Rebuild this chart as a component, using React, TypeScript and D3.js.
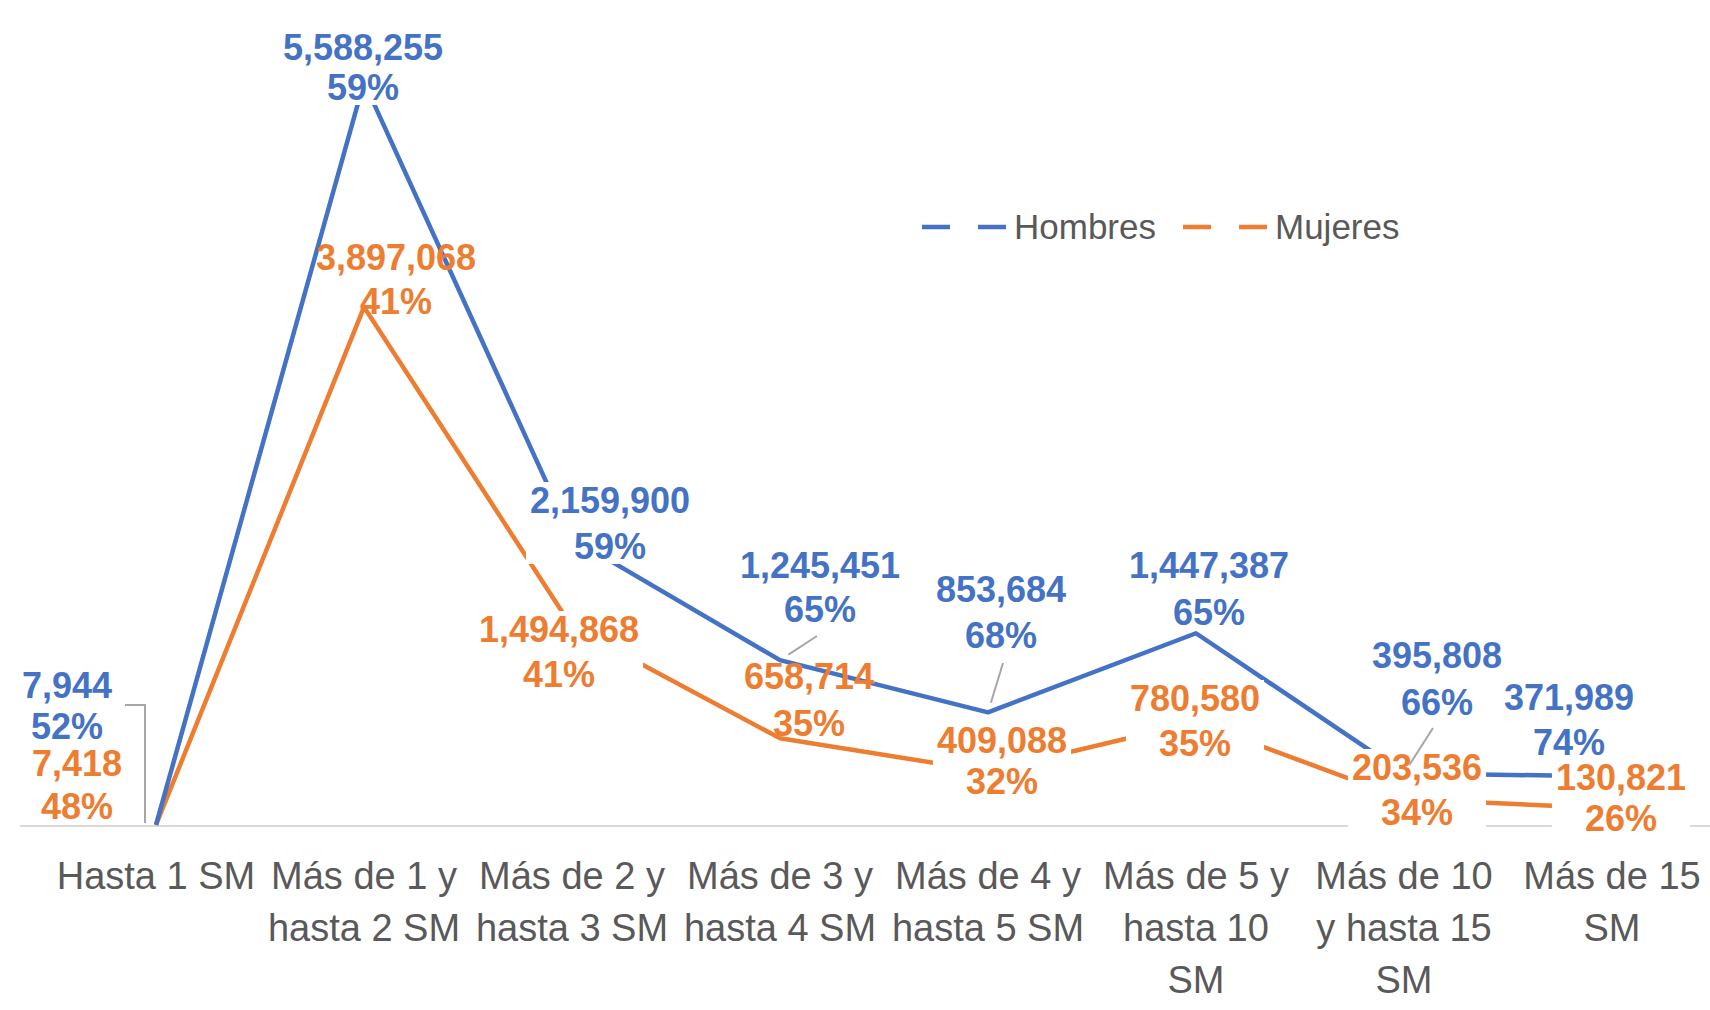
import { useEffect, useRef } from 'react';
import * as d3 from 'd3';

// tick labels, one entry per category (wrapped as in the original)
const categories = [
  ['Hasta 1 SM'],
  ['Más de 1 y', 'hasta 2 SM'],
  ['Más de 2 y', 'hasta 3 SM'],
  ['Más de 3 y', 'hasta 4 SM'],
  ['Más de 4 y', 'hasta 5 SM'],
  ['Más de 5 y', 'hasta 10', 'SM'],
  ['Más de 10', 'y hasta 15', 'SM'],
  ['Más de 15', 'SM'],
];

const hombres = [7944, 5588255, 2159900, 1245451, 853684, 1447387, 395808, 371989];
const mujeres = [7418, 3897068, 1494868, 658714, 409088, 780580, 203536, 130821];
const hombresPct = ['52%', '59%', '59%', '65%', '68%', '65%', '66%', '74%'];
const mujeresPct = ['48%', '41%', '41%', '35%', '32%', '35%', '34%', '26%'];

const BLUE = '#4472C4';
const ORANGE = '#ED7D31';
const GRAY = '#595959';
const FONT = '"Liberation Sans", Arial, sans-serif';

// label placement (centre x, value line y, percent line y) - layout only
const hombresLabelPos = [
  [67, 685, 726], [363, 47, 87], [610, 500, 546], [820, 565, 609],
  [1001, 589, 635], [1209, 565, 612], [1437, 655, 702], [1569, 697, 742],
];
const mujeresLabelPos = [
  [77, 763, 806], [396, 257, 301], [559, 629, 674], [809, 676, 723],
  [1002, 740, 781], [1195, 698, 743], [1417, 767, 812], [1621, 777, 818],
];
// Mujeres labels that the blue line shows through (no white box)
const mujeresOpen = [1, 3];
// leader line start points for a few Hombres labels
const hombresLeaders: Record<number, [number, number]> = {
  3: [817, 636],
  4: [1003, 663],
  6: [1433, 728],
};

export default function App() {
  const svgRef = useRef<SVGSVGElement>(null);

  useEffect(() => {
    if (!svgRef.current) return;
    const svg = d3.select(svgRef.current);
    svg.selectAll('*').remove();

    const width = 1710;
    const baseY = 826;

    const x = d3.scaleBand<number>()
      .domain(d3.range(categories.length))
      .range([52, 1716]);
    const cx = (i: number) => (x(i) || 0) + x.bandwidth() / 2;

    const y = d3.scaleLinear().domain([0, 6000000]).range([baseY, 27]);

    // axis line
    svg.append('line')
      .attr('x1', 20).attr('x2', width)
      .attr('y1', baseY).attr('y2', baseY)
      .attr('stroke', '#D9D9D9').attr('stroke-width', 2);

    // category labels
    const tick = svg.append('g')
      .attr('font-family', FONT)
      .attr('font-size', 38)
      .attr('fill', GRAY)
      .attr('text-anchor', 'middle');
    categories.forEach((lines, i) => {
      lines.forEach((t, j) => {
        tick.append('text')
          .attr('x', cx(i))
          .attr('y', 876 + j * 52)
          .attr('dy', '0.35em')
          .text(t);
      });
    });

    const line = d3.line<number>()
      .x((_, i) => cx(i))
      .y(d => y(d));

    svg.append('path')
      .datum(mujeres)
      .attr('d', line)
      .attr('fill', 'none')
      .attr('stroke', ORANGE)
      .attr('stroke-width', 4.5)
      .attr('stroke-linejoin', 'round');

    svg.append('path')
      .datum(hombres)
      .attr('d', line)
      .attr('fill', 'none')
      .attr('stroke', BLUE)
      .attr('stroke-width', 4.5)
      .attr('stroke-linejoin', 'round');

    // data labels: white boxes first, then text
    const fmt = d3.format(',');
    const labels = [
      ...hombres.map((v, i) => ({ v: fmt(v), p: hombresPct[i], pos: hombresLabelPos[i], c: BLUE, box: true })),
      ...mujeres.map((v, i) => ({
        v: fmt(v), p: mujeresPct[i], pos: mujeresLabelPos[i], c: ORANGE, box: !mujeresOpen.includes(i),
      })),
    ];
    const boxes = svg.append('g');

    // leader lines
    const leaders = svg.append('g')
      .attr('stroke', '#A6A6A6')
      .attr('stroke-width', 2)
      .attr('fill', 'none');
    leaders.append('path')
      .attr('d', `M125,705H145V${y(hombres[0]) - 2}`);
    Object.entries(hombresLeaders).forEach(([k, [sx, sy]]) => {
      const i = +k;
      const px = cx(i);
      const py = y(hombres[i]);
      const dx = sx - px;
      const dy = sy - py;
      const len = Math.hypot(dx, dy);
      const stop = 10 / len;
      leaders.append('line')
        .attr('x1', sx).attr('y1', sy)
        .attr('x2', px + dx * stop).attr('y2', py + dy * stop);
    });

    const texts = svg.append('g')
      .attr('font-family', FONT)
      .attr('font-size', 36)
      .attr('font-weight', 'bold')
      .attr('text-anchor', 'middle');

    labels.forEach(l => {
      const t1 = texts.append('text')
        .attr('x', l.pos[0]).attr('y', l.pos[1]).attr('dy', '0.35em')
        .attr('fill', l.c).text(l.v);
      texts.append('text')
        .attr('x', l.pos[0]).attr('y', l.pos[2]).attr('dy', '0.35em')
        .attr('fill', l.c).text(l.p);
      if (!l.box) return;
      const w = (t1.node() as SVGTextElement).getComputedTextLength();
      boxes.append('rect')
        .attr('x', l.pos[0] - w / 2 - 4)
        .attr('y', l.pos[1] - 18)
        .attr('width', w + 8)
        .attr('height', l.pos[2] - l.pos[1] + 36)
        .attr('fill', '#fff');
    });

    // legend
    const legend = svg.append('g')
      .attr('font-family', FONT)
      .attr('font-size', 35)
      .attr('fill', GRAY);
    const items = [
      { name: 'Hombres', c: BLUE, x0: 922 },
      { name: 'Mujeres', c: ORANGE, x0: 1183 },
    ];
    items.forEach(it => {
      legend.append('line')
        .attr('x1', it.x0).attr('x2', it.x0 + 86)
        .attr('y1', 227).attr('y2', 227)
        .attr('stroke', it.c)
        .attr('stroke-width', 4.5)
        .attr('stroke-dasharray', '28,28');
      legend.append('text')
        .attr('x', it.x0 + 92)
        .attr('y', 227)
        .attr('dy', '0.35em')
        .text(it.name);
    });
  }, []);

  return (
    <svg
      ref={svgRef}
      width={1710}
      height={1010}
      style={{ position: 'absolute', left: 0, top: 0, background: '#fff' }}
    />
  );
}
